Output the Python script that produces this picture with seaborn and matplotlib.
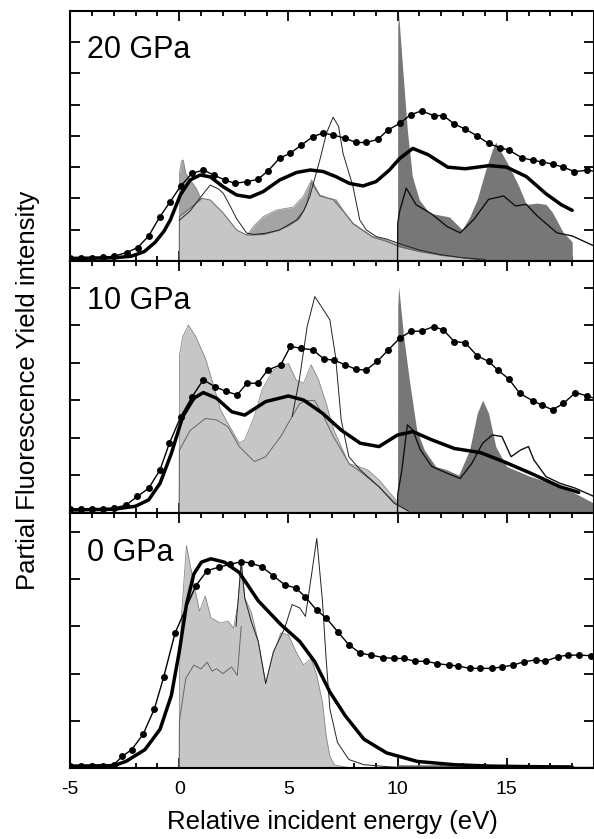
import numpy as np
import pandas as pd
import seaborn as sns
import matplotlib.pyplot as plt
from matplotlib.ticker import MultipleLocator, FixedLocator

sns.set_theme(style="ticks")
plt.rcParams['font.family'] = ['Liberation Sans', 'DejaVu Sans']
plt.rcParams['axes.unicode_minus'] = False
for key in ['text.color', 'axes.labelcolor', 'xtick.color', 'ytick.color', 'axes.edgecolor']:
    plt.rcParams[key] = 'black'

# ---------------- 20 GPa ----------------
p20_exp_x = [-5, -4.5, -4, -3.5, -3, -2.4, -1.9, -1.4, -0.9, -0.41, 0.07, 0.58, 1.11, 1.57, 2.1, 2.56, 3.1,
             3.6, 4.08, 4.6, 5.07, 5.6, 6.13, 6.59, 7.05, 7.58, 8.1, 8.57, 9.1, 9.56, 10.1, 10.6, 11.1,
             11.66, 12.1, 12.6, 13.1, 13.65, 14.17, 14.7, 15.1, 15.7, 16.2, 16.6, 17.1, 17.6, 18.1, 18.7, 19.3]
p20_exp_y = [0.1, 0.1, 0.1, 0.12, 0.15, 0.27, 0.43, 0.8, 1.4, 1.9, 2.4, 2.8, 2.91, 2.75, 2.59, 2.48, 2.54,
             2.61, 2.89, 3.29, 3.44, 3.71, 3.98, 4.09, 4.03, 3.93, 3.79, 3.79, 3.89, 4.19, 4.4, 4.68, 4.8,
             4.65, 4.65, 4.38, 4.22, 4.0, 3.76, 3.62, 3.55, 3.3, 3.22, 3.17, 3.1, 3.0, 2.86, 2.9, 2.85]
p20_fit_x = [-5, -3, -2.2, -1.6, -1.1, -0.7, -0.41, 0.05, 0.5, 0.96, 1.42, 2.02, 2.63, 3.24, 3.85, 4.6,
             5.37, 6.0, 6.6, 7.2, 7.8, 8.42, 9.02, 9.63, 10.1, 10.7, 11.4, 12.3, 13.1, 14.2, 15.0, 15.9,
             16.8, 17.5, 18.0]
p20_fit_y = [0.08, 0.1, 0.15, 0.3, 0.6, 0.95, 1.31, 2.11, 2.59, 2.75, 2.69, 2.37, 2.11, 2.04, 2.22, 2.59,
             2.83, 2.91, 2.86, 2.69, 2.48, 2.4, 2.54, 2.91, 3.28, 3.6, 3.4, 3.0, 2.95, 3.05, 3.0, 2.7,
             2.15, 1.8, 1.62]
p20_b_x = [0, 0.01, 0.1, 0.18, 0.3, 0.5, 0.8, 1.04, 1.4, 2.0, 2.6, 3.09, 3.39, 3.85, 4.46, 5.22, 5.68,
           6.06, 6.44, 6.9, 7.2, 7.5, 7.96, 8.42, 8.87, 9.48, 10.0, 10.01]
p20_b_y = [0, 2.8, 3.2, 3.23, 2.8, 2.6, 2.3, 1.9, 1.6, 1.2, 0.85, 0.8, 1.1, 1.42, 1.63, 1.72, 2.06,
           2.59, 2.11, 2.0, 1.95, 1.63, 1.21, 0.99, 0.78, 0.67, 0.52, 0]
p20_a_x = [0, 0.01, 0.5, 1.04, 1.42, 2.02, 2.63, 3.09, 3.4, 3.9, 4.5, 5.0, 5.5, 5.83, 6.06, 6.44, 7.05,
           7.5, 7.96, 8.42, 8.87, 9.48, 10.1, 11, 12, 13, 13.6, 14]
p20_a_y = [0, 1.42, 1.69, 2.0, 1.95, 1.53, 0.99, 0.83, 0.83, 0.85, 0.97, 1.12, 1.35, 1.8, 2.5, 2.08,
           1.96, 1.6, 1.19, 0.97, 0.76, 0.63, 0.45, 0.3, 0.18, 0.1, 0.05, 0.02]
p20_c_x = [0, 0.5, 1.0, 1.42, 1.8, 2.02, 2.3, 2.63, 3.09, 3.4, 3.9, 4.6, 5.37, 5.7, 5.98, 6.44, 6.75,
           7.05, 7.3, 7.5, 7.96, 8.27, 8.57, 9.03, 9.5, 10.1, 11, 12, 13, 14]
p20_c_y = [1.3, 1.6, 2.06, 2.43, 2.3, 2.16, 1.8, 1.35, 0.89, 0.85, 0.88, 0.99, 1.31, 1.6, 2.06, 3.23,
           4.1, 4.6, 4.3, 3.45, 2.38, 1.31, 0.99, 0.78, 0.7, 0.55, 0.35, 0.2, 0.1, 0.05]
p20_e_x = [10.0, 10.01, 10.05, 10.23, 10.46, 10.68, 11.0, 11.46, 12.37, 12.96, 13.3, 13.65, 14.0, 14.35,
           14.5, 15.1, 15.55, 15.9, 16.4, 16.8, 17.1, 17.6, 17.9, 18.0, 18.01]
p20_e_y = [0, 7.5, 7.9, 6.2, 4.1, 2.7, 1.95, 1.53, 1.41, 1.0, 1.4, 1.97, 2.83, 3.57, 3.8, 3.04, 2.4,
           1.81, 1.85, 1.81, 1.55, 0.9, 0.69, 0.6, 0]
p20_d_x = [10.0, 10.01, 10.1, 10.4, 10.85, 11.57, 12.27, 12.87, 13.5, 14.17, 14.86, 15.4, 15.9, 16.4,
           17.3, 18.0, 19.0]
p20_d_y = [0, 1.2, 1.6, 2.33, 1.8, 1.5, 1.1, 0.9, 1.33, 1.97, 2.08, 1.76, 1.81, 1.44, 0.9, 0.8, 0.48]

# ---------------- 10 GPa ----------------
p10_exp_x = [-5, -4.5, -4, -3.5, -3, -2.44, -1.92, -1.4, -0.88, -0.45, 0.07, 0.59, 1.1, 1.63, 2.15,
             2.66, 3.1, 3.6, 4.05, 4.65, 5.09, 5.6, 6.12, 6.64, 7.08, 7.6, 8.1, 8.55, 9.07, 9.58, 10.1,
             10.6, 11.1, 11.66, 12.1, 12.6, 13.1, 13.65, 14.17, 14.6, 15.1, 15.6, 16.2, 16.6, 17.1,
             17.6, 18.15, 18.7, 19.3]
p10_exp_y = [0.1, 0.1, 0.1, 0.11, 0.13, 0.21, 0.44, 0.66, 1.15, 1.86, 2.57, 3.1, 3.55, 3.37, 3.24,
             3.15, 3.46, 3.46, 3.81, 3.95, 4.44, 4.39, 4.35, 4.1, 4.08, 3.95, 3.83, 3.81, 4.04, 4.35,
             4.66, 4.84, 4.85, 4.97, 4.88, 4.57, 4.54, 4.19, 4.04, 3.81, 3.57, 3.19, 2.99, 2.88, 2.75,
             2.92, 3.21, 3.12, 3.0]
p10_fit_x = [-5, -3, -2.0, -1.4, -0.88, -0.36, 0.16, 0.67, 1.1, 1.71, 2.4, 3.0, 3.96, 5.0, 5.7, 6.56,
             7.42, 8.29, 9.15, 10.0, 10.7, 11.57, 12.6, 13.8, 14.86, 16.1, 17.45, 18.3]
p10_fit_y = [0.08, 0.1, 0.18, 0.35, 0.79, 1.59, 2.57, 3.06, 3.21, 3.06, 2.7, 2.61, 2.97, 3.12, 3.01,
             2.66, 2.21, 1.86, 1.77, 2.08, 2.17, 1.95, 1.72, 1.61, 1.37, 1.06, 0.7, 0.55]
p10_b_x = [0, 0.01, 0.16, 0.42, 0.76, 1.2, 1.54, 1.89, 2.23, 2.75, 3.0, 3.44, 3.79, 4.3, 5.0, 5.35,
           5.7, 6.04, 6.38, 6.73, 7.08, 7.42, 7.77, 8.2, 8.63, 9.15, 9.67, 9.93, 10.3, 10.6]
p10_b_y = [0, 4.2, 4.7, 5.01, 4.7, 4.12, 3.46, 2.75, 2.39, 1.86, 1.95, 2.57, 3.28, 3.81, 3.99, 3.55,
           3.46, 3.95, 3.55, 2.92, 2.21, 1.77, 1.32, 1.24, 1.15, 0.88, 0.52, 0.35, 0.15, 0]
p10_a_x = [0, 0.01, 0.5, 1.2, 1.71, 2.23, 2.75, 3.44, 3.96, 4.65, 5.17, 5.5, 5.8, 6.2, 6.6, 7.0, 7.4,
           7.8, 8.3, 9.15, 9.84, 10.5]
p10_a_y = [0, 1.68, 2.2, 2.52, 2.48, 2.3, 1.77, 1.37, 1.5, 2.04, 2.57, 2.9, 3.0, 3.0, 2.6, 2.1, 1.7,
           1.3, 1.1, 0.7, 0.3, 0.05]
p10_c_x = [5.17, 5.5, 5.86, 6.21, 6.56, 6.9, 7.16, 7.42, 7.77, 8.29, 9.15, 9.84, 10.5]
p10_c_y = [2.57, 3.55, 4.97, 5.77, 5.46, 5.15, 4.17, 2.48, 1.5, 1.15, 0.7, 0.26, 0.05]
p10_e_x = [10.0, 10.01, 10.05, 10.28, 10.54, 10.88, 11.23, 11.75, 12.27, 12.8, 13.3, 13.65, 13.9,
           14.17, 14.5, 15.0, 16.1, 17.1, 18.15, 19.0]
p10_e_y = [0, 5.5, 6.04, 4.7, 3.55, 2.21, 1.68, 1.24, 1.15, 1.01, 1.68, 2.66, 3.01, 2.66, 1.77, 1.24,
           0.97, 0.79, 0.52, 0.26]
p10_d_x = [10.0, 10.01, 10.2, 10.45, 10.7, 11.05, 11.57, 12.27, 12.87, 13.4, 13.9, 14.34, 14.78, 15.2,
           15.64, 16.0, 16.25, 16.8, 17.45, 18.15, 19.0]
p10_d_y = [0, 0.5, 1.15, 2.35, 2.21, 1.68, 1.24, 1.06, 0.92, 1.32, 1.86, 2.08, 2.04, 1.5, 1.68, 1.77,
           1.41, 0.97, 0.79, 0.66, 0.44]

# ---------------- 0 GPa ----------------
p0_exp_x = [-5, -4.5, -4, -3.5, -3, -2.6, -2.18, -1.66, -1.14, -0.71, -0.19, 0.76, 1.28, 1.8, 2.32,
            2.84, 3.27, 3.79, 4.31, 4.83, 5.35, 5.78, 6.3, 6.73, 7.25, 7.77, 8.29, 8.8, 9.33, 9.84,
            10.28, 10.8, 11.3, 11.83, 12.35, 12.79, 13.3, 13.8, 14.34, 14.78, 15.3, 15.8, 16.33, 16.76,
            17.37, 17.8, 18.3, 18.84, 19.3]
p0_exp_y = [0.04, 0.04, 0.04, 0.05, 0.07, 0.25, 0.39, 0.71, 1.25, 1.93, 2.86, 3.86, 4.18, 4.25, 4.31,
            4.37, 4.34, 4.26, 4.07, 3.88, 3.81, 3.62, 3.34, 3.18, 2.89, 2.61, 2.43, 2.39, 2.34, 2.32,
            2.32, 2.26, 2.26, 2.21, 2.18, 2.16, 2.11, 2.11, 2.11, 2.14, 2.18, 2.25, 2.29, 2.26, 2.36,
            2.39, 2.39, 2.38, 2.38]
p0_fit_x = [-5, -3, -2.44, -1.57, -0.88, -0.36, 0.0, 0.33, 0.67, 1.02, 1.45, 2.06, 2.75, 3.62, 4.65,
            5.52, 6.21, 6.9, 7.6, 8.46, 9.5, 10.9, 12.6, 14.3, 16, 18]
p0_fit_y = [0.04, 0.05, 0.14, 0.39, 0.82, 1.54, 2.46, 3.46, 4.11, 4.36, 4.43, 4.36, 4.14, 3.54, 3.04,
            2.68, 2.25, 1.61, 1.11, 0.61, 0.32, 0.14, 0.07, 0.04, 0.03, 0.02]
p0_b_x = [0, 0.01, 0.1, 0.33, 0.5, 0.67, 0.93, 1.19, 1.45, 1.89, 2.23, 2.49, 2.7, 2.84, 3.0, 3.3, 3.62,
          3.96, 4.31, 4.65, 5.0, 5.35, 5.69, 6.04, 6.3, 6.56, 6.73, 6.9, 7.1, 7.5, 8.0]
p0_b_y = [0, 2.0, 3.2, 4.71, 4.3, 3.89, 3.32, 3.64, 3.18, 3.07, 3.11, 2.96, 3.5, 4.36, 3.6, 3.3, 2.68,
          1.79, 2.4, 2.86, 2.82, 2.46, 2.18, 2.32, 1.96, 1.39, 0.68, 0.25, 0.07, 0.03, 0]
p0_a_x = [0, 0.01, 0.3, 0.67, 1.0, 1.28, 1.5, 1.71, 2.0, 2.4, 2.66, 2.84]
p0_a_y = [0, 1.0, 1.9, 2.18, 2.1, 2.24, 2.05, 2.1, 2.0, 2.14, 1.96, 3.0]
p0_c_x = [2.6, 2.84, 3.0, 3.3, 3.62, 3.96, 4.31, 4.83, 5.17, 5.52, 5.78, 6.0, 6.3, 6.56, 6.73, 6.9,
          7.25, 7.77, 8.46, 9.5, 10.5]
p0_c_y = [3.0, 4.36, 3.6, 3.1, 2.68, 1.79, 2.46, 2.96, 3.46, 3.39, 3.21, 3.9, 4.86, 3.54, 2.3, 1.25,
          0.54, 0.18, 0.07, 0.03, 0.0]
p0_e_x = [10.0, 10.01, 18.0, 18.01]
p0_e_y = [0, 0.07, 0.07, 0]
p0_d_x = [10.0, 19.0]
p0_d_y = [0.03, 0.03]

labels = ['20 GPa', '10 GPa', '0 GPa']
ymax = [8.0, 6.72, 5.4]
xticks = [-5, 0, 5, 10, 15]
xticklabels = ['-5', '0', '5', '10', '15']

LIGHT = '#c6c6c6'
MEDIUM = '#a4a4a4'
DARK = '#777777'

panels = [
    (p20_exp_x, p20_exp_y, p20_fit_x, p20_fit_y, p20_b_x, p20_b_y, p20_a_x, p20_a_y,
     p20_c_x, p20_c_y, p20_e_x, p20_e_y, p20_d_x, p20_d_y, MEDIUM),
    (p10_exp_x, p10_exp_y, p10_fit_x, p10_fit_y, p10_b_x, p10_b_y, p10_a_x, p10_a_y,
     p10_c_x, p10_c_y, p10_e_x, p10_e_y, p10_d_x, p10_d_y, LIGHT),
    (p0_exp_x, p0_exp_y, p0_fit_x, p0_fit_y, p0_b_x, p0_b_y, p0_a_x, p0_a_y,
     p0_c_x, p0_c_y, p0_e_x, p0_e_y, p0_d_x, p0_d_y, LIGHT),
]

fig, axes = plt.subplots(3, 1, figsize=(5.94, 8.39), dpi=100, sharex=True,
                         gridspec_kw={'height_ratios': [250, 252, 255], 'hspace': 0})
fig.subplots_adjust(left=0.118, right=1.0, top=0.987, bottom=0.0846)

for i, ax in enumerate(axes):
    (ex, ey, fx, fy, bx, by, ax_, ay, cx, cy, qx, qy, dx, dy, bcol) = panels[i]

    # filled partial DOS areas
    ax.fill_between(bx, by, 0, color=bcol, lw=0, zorder=1)
    sns.lineplot(x=bx, y=by, ax=ax, color='#888888', lw=0.6, estimator=None, sort=False, zorder=1.5)
    ax.fill_between(qx, qy, 0, color=DARK, lw=0, zorder=2)
    ax.fill_between(ax_, ay, 0, color=LIGHT, lw=0, zorder=3)
    sns.lineplot(x=ax_, y=ay, ax=ax, color='#666666', lw=0.7, estimator=None, sort=False, zorder=4)
    # unbroadened spectra
    sns.lineplot(x=cx, y=cy, ax=ax, color='#222222', lw=0.7, estimator=None, sort=False, zorder=5)
    sns.lineplot(x=dx, y=dy, ax=ax, color='#111111', lw=1.0, estimator=None, sort=False, zorder=5)
    # broadened calculation and experiment
    sns.lineplot(x=fx, y=fy, ax=ax, color='black', lw=2.5, estimator=None, sort=False, zorder=6)
    sns.lineplot(x=ex, y=ey, ax=ax, color='black', lw=1.0, marker='o', markersize=5,
                 markeredgewidth=0, estimator=None, sort=False, zorder=7)

    ax.set_xlim(-5, 19)
    ax.set_ylim(0, ymax[i])
    ax.xaxis.set_major_locator(FixedLocator(xticks))
    ax.xaxis.set_minor_locator(MultipleLocator(1))
    ax.yaxis.set_major_locator(MultipleLocator(1))
    ax.set_yticklabels([])
    ax.tick_params(which='both', direction='in', top=True, right=True, width=1.3, color='black')
    ax.tick_params(which='major', length=7)
    ax.tick_params(which='minor', length=3.6)
    for s in ax.spines.values():
        s.set_linewidth(1.5)
        s.set_color('black')
        s.set_zorder(10)
    ax.set_ylabel('')
    ax.text(0.032, 0.81, labels[i], transform=ax.transAxes, fontsize=22, va='baseline',
            ha='left', color='black', zorder=12)

axes[2].set_xticklabels(xticklabels)
axes[2].tick_params(axis='x', which='major', labelsize=14, pad=9, labelcolor='black')
axes[2].set_xlabel('Relative incident energy (eV)', fontsize=18.5, labelpad=9, color='black')
fig.text(0.047, 0.535, 'Partial Fluorescence Yield intensity', rotation=90, fontsize=18.5,
         ha='center', va='center', color='black')

fig.savefig('out.png', dpi=100)
